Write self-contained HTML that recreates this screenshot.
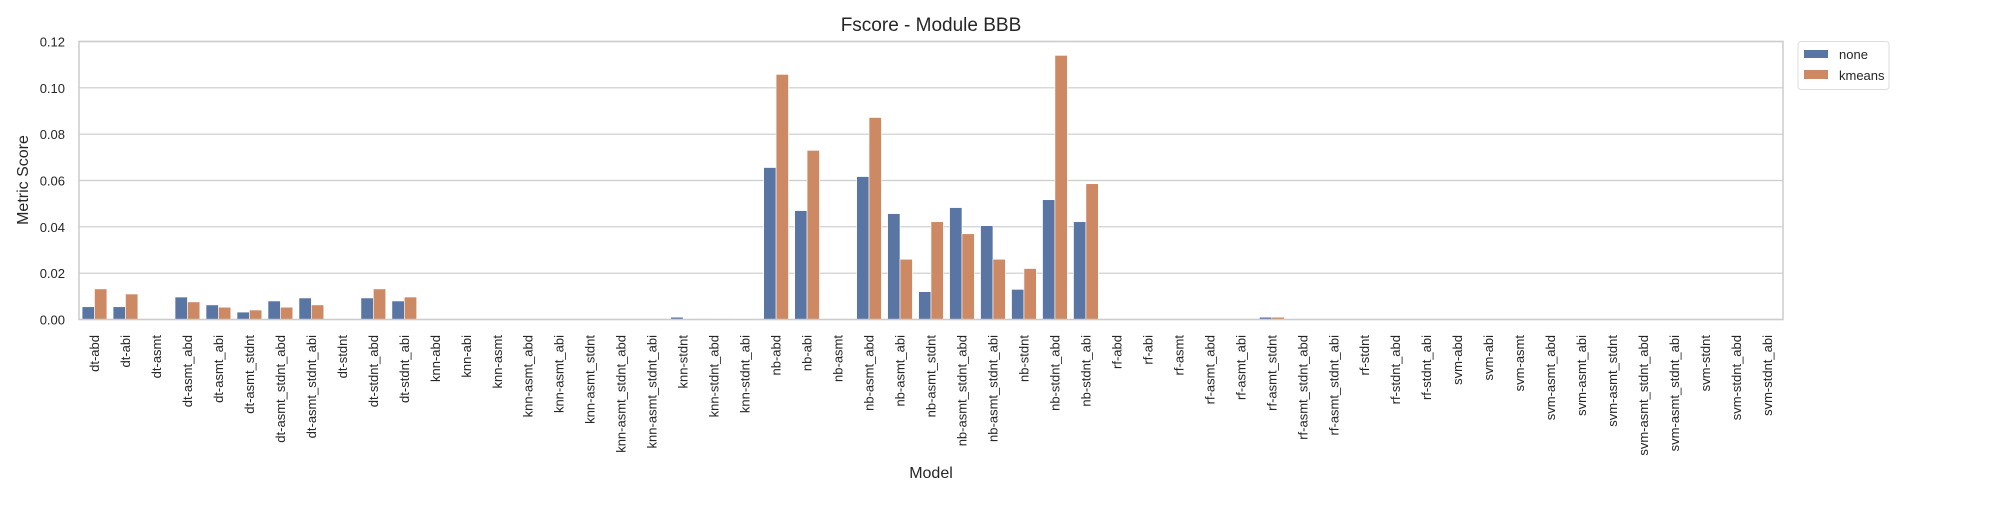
<!DOCTYPE html>
<html><head><meta charset="utf-8"><style>
body{margin:0;background:#fff}
svg text{font-family:"Liberation Sans",sans-serif;fill:#262626}
</style></head><body>
<svg id="chart" width="2000" height="500" xmlns="http://www.w3.org/2000/svg">
<text x="931" y="31" font-size="19" text-anchor="middle">Fscore - Module BBB</text>
<g id="grid"></g>
<g id="bars"></g>
<rect x="79" y="41.5" width="1704" height="278" fill="none" stroke="#cccccc" stroke-width="1.5"/>
<g id="yticks"></g>
<g id="xticks"></g>
<text transform="translate(28,180) rotate(-90)" font-size="16" text-anchor="middle">Metric Score</text>
<text x="931" y="478" font-size="16" text-anchor="middle">Model</text>
<g>
<rect x="1798" y="41.5" width="91" height="48" rx="3" fill="#fff" stroke="#dddddd"/>
<rect x="1804" y="50" width="24" height="8" fill="#5975a4"/>
<text x="1839" y="59" font-size="13">none</text>
<rect x="1804" y="70" width="24" height="9" fill="#cc8963"/>
<text x="1839" y="80" font-size="13">kmeans</text>
</g>
</svg>
<script>
const models = ["dt","knn","nb","rf","svm"];
const variants = ["abd","abi","asmt","asmt_abd","asmt_abi","asmt_stdnt","asmt_stdnt_abd","asmt_stdnt_abi","stdnt","stdnt_abd","stdnt_abi"];
const categories = [];
models.forEach(m => variants.forEach(v => categories.push(m + "-" + v)));
const noneValues = [
0.0055,0.0055,0,0.0097,0.0063,0.0032,0.008,0.0093,0,0.0093,0.008,
0,0,0,0,0,0,0,0,0.001,0,0.0003,
0.0656,0.047,0,0.0617,0.0457,0.012,0.0483,0.0405,0.013,0.0517,0.0422,
0,0,0,0,0,0.001,0,0,0,0,0,
0,0,0,0,0,0,0,0,0,0,0];
const kmeansValues = [
0.0132,0.011,0,0.0076,0.0053,0.0041,0.0053,0.0063,0,0.0132,0.0097,
0,0,0,0,0,0,0,0,0.0002,0.0002,0.0003,
0.1058,0.073,0,0.0872,0.026,0.0422,0.037,0.026,0.022,0.114,0.0586,
0,0,0,0,0,0.001,0,0,0,0,0,
0,0,0,0,0,0,0,0,0,0,0];
const yTicks = [0,0.02,0.04,0.06,0.08,0.10,0.12];
const yTickLabels = ["0.00","0.02","0.04","0.06","0.08","0.10","0.12"];

const NS = "http://www.w3.org/2000/svg";
const L = 79, R = 1783, T = 41.5, B = 319.5, YMAX = 0.12;
const band = (R - L) / categories.length;
const y = v => B - v / YMAX * (B - T);
const xc = i => L + band * (i + 0.5);
function mk(tag, attrs, parent) {
  const e = document.createElementNS(NS, tag);
  for (const k in attrs) e.setAttribute(k, attrs[k]);
  parent.appendChild(e);
  return e;
}
const grid = document.getElementById("grid");
const yt = document.getElementById("yticks");
yTicks.forEach((t, i) => {
  const ln = mk("line", {x1: L, x2: R, y1: y(t), y2: y(t), stroke: "#cccccc", "stroke-width": 1.2}, grid);
  
  
  const tx = mk("text", {x: L - 14, y: y(t) + 5, "font-size": 13, "text-anchor": "end"}, yt);
  
  
  tx.textContent = yTickLabels[i];
});
const bars = document.getElementById("bars");
const bw = band * 0.4;
categories.forEach((c, i) => {
  [[noneValues, "#5975a4", -1, "none"], [kmeansValues, "#cc8963", 0, "kmeans"]].forEach(([vals, col, off, s]) => {
    const v = vals[i];
    const r = mk("rect", {x: xc(i) + off * bw, y: y(v), width: bw, height: B - y(v), fill: col, stroke: "#ffffff", "stroke-width": 0.6}, bars);
    
    
  });
  const tx = mk("text", {transform: "translate(" + (xc(i) + 4.5) + ",335) rotate(-90)", "font-size": 13, "text-anchor": "end"}, document.getElementById("xticks"));
  
  
  tx.textContent = c;
});
</script>
</body></html>
